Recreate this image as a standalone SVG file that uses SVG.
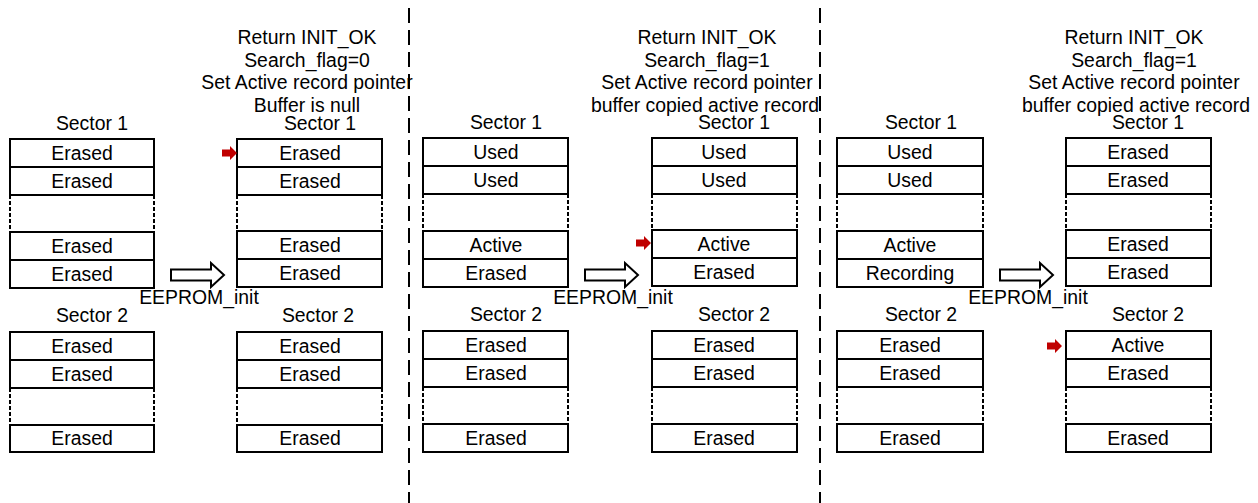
<svg xmlns="http://www.w3.org/2000/svg" width="1258" height="503" viewBox="0 0 1258 503">
<style>
text{font-family:"Liberation Sans",Arial,sans-serif;font-size:19.4px;fill:#000;text-anchor:middle}
.c{fill:#fff;stroke:#000;stroke-width:2}
.d{stroke:#000;stroke-width:2;stroke-dasharray:4 2;fill:none}
.div{stroke:#000;stroke-width:2;stroke-dasharray:15 7;fill:none}
.ha{fill:#fff;stroke:#000;stroke-width:2;stroke-linejoin:miter}
.ra{fill:#c00000;stroke:none}
</style>
<defs>
<path id="red" class="ra" d="M0,-3.5 H8 V-7 L15,0 L8,7 V3.5 H0 Z"/>
</defs>
<rect width="1258" height="503" fill="#fff"/>

<g id="dividers">
<line class="div" x1="409" y1="8" x2="409" y2="503"/>
<line class="div" x1="820" y1="8" x2="820" y2="503"/>
</g>

<g id="p1-notes">
<text x="307" y="44">Return INIT_OK</text>
<text x="307" y="67">Search_flag=0</text>
<text x="307" y="89">Set Active record pointer</text>
<text x="307" y="112">Buffer is null</text>
</g>
<g id="p2-notes">
<text x="707" y="44">Return INIT_OK</text>
<text x="707" y="67">Search_flag=1</text>
<text x="707" y="89">Set Active record pointer</text>
<text x="705" y="112">buffer copied active record</text>
</g>
<g id="p3-notes">
<text x="1134" y="44">Return INIT_OK</text>
<text x="1134" y="67">Search_flag=1</text>
<text x="1134" y="89">Set Active record pointer</text>
<text x="1136" y="112">buffer copied active record</text>
</g>

<!-- Panel 1 left -->
<g id="p1-before-s1">
<text x="92" y="130">Sector 1</text>
<rect class="c" x="10" y="139" width="144" height="28"/>
<rect class="c" x="10" y="167" width="144" height="28"/>
<line class="d" x1="10" y1="195" x2="10" y2="232"/><line class="d" x1="154" y1="195" x2="154" y2="232"/>
<rect class="c" x="10" y="232" width="144" height="28"/>
<rect class="c" x="10" y="260" width="144" height="28"/>
<text x="82" y="160">Erased</text><text x="82" y="188">Erased</text>
<text x="82" y="253">Erased</text><text x="82" y="281">Erased</text>
</g>
<g id="p1-before-s2">
<text x="92" y="322">Sector 2</text>
<rect class="c" x="10" y="332" width="144" height="28"/>
<rect class="c" x="10" y="360" width="144" height="28"/>
<line class="d" x1="10" y1="388" x2="10" y2="425"/><line class="d" x1="154" y1="388" x2="154" y2="425"/>
<rect class="c" x="10" y="425" width="144" height="27"/>
<text x="82" y="353">Erased</text><text x="82" y="381">Erased</text>
<text x="82" y="445">Erased</text>
</g>
<g id="p1-after-s1">
<text x="320" y="130">Sector 1</text>
<rect class="c" x="237" y="139" width="145" height="28"/>
<rect class="c" x="237" y="167" width="145" height="28"/>
<line class="d" x1="237" y1="195" x2="237" y2="231"/><line class="d" x1="382" y1="195" x2="382" y2="231"/>
<rect class="c" x="237" y="231" width="145" height="28"/>
<rect class="c" x="237" y="259" width="145" height="28"/>
<text x="310" y="160">Erased</text><text x="310" y="188">Erased</text>
<text x="310" y="252">Erased</text><text x="310" y="280">Erased</text>
<use href="#red" x="222" y="153"/>
</g>
<g id="p1-after-s2">
<text x="318" y="322">Sector 2</text>
<rect class="c" x="237" y="332" width="145" height="28"/>
<rect class="c" x="237" y="360" width="145" height="28"/>
<line class="d" x1="237" y1="388" x2="237" y2="425"/><line class="d" x1="382" y1="388" x2="382" y2="425"/>
<rect class="c" x="237" y="425" width="145" height="27"/>
<text x="310" y="353">Erased</text><text x="310" y="381">Erased</text>
<text x="310" y="445">Erased</text>
</g>

<!-- Panel 2 -->
<g id="p2-before-s1">
<text x="506" y="129">Sector 1</text>
<rect class="c" x="423" y="138" width="145" height="28"/>
<rect class="c" x="423" y="166" width="145" height="28"/>
<line class="d" x1="423" y1="194" x2="423" y2="231"/><line class="d" x1="568" y1="194" x2="568" y2="231"/>
<rect class="c" x="423" y="231" width="145" height="28"/>
<rect class="c" x="423" y="259" width="145" height="28"/>
<text x="496" y="159">Used</text><text x="496" y="187">Used</text>
<text x="496" y="252">Active</text><text x="496" y="280">Erased</text>
</g>
<g id="p2-before-s2">
<text x="506" y="321">Sector 2</text>
<rect class="c" x="423" y="331" width="145" height="28"/>
<rect class="c" x="423" y="359" width="145" height="28"/>
<line class="d" x1="423" y1="387" x2="423" y2="424"/><line class="d" x1="568" y1="387" x2="568" y2="424"/>
<rect class="c" x="423" y="424" width="145" height="28"/>
<text x="496" y="352">Erased</text><text x="496" y="380">Erased</text>
<text x="496" y="445">Erased</text>
</g>
<g id="p2-after-s1">
<text x="734" y="129">Sector 1</text>
<rect class="c" x="652" y="138" width="145" height="28"/>
<rect class="c" x="652" y="166" width="145" height="28"/>
<line class="d" x1="652" y1="194" x2="652" y2="230"/><line class="d" x1="797" y1="194" x2="797" y2="230"/>
<rect class="c" x="652" y="230" width="145" height="28"/>
<rect class="c" x="652" y="258" width="145" height="28"/>
<text x="724" y="159">Used</text><text x="724" y="187">Used</text>
<text x="724" y="251">Active</text><text x="724" y="279">Erased</text>
<use href="#red" x="636" y="243"/>
</g>
<g id="p2-after-s2">
<text x="734" y="321">Sector 2</text>
<rect class="c" x="652" y="331" width="145" height="28"/>
<rect class="c" x="652" y="359" width="145" height="28"/>
<line class="d" x1="652" y1="387" x2="652" y2="424"/><line class="d" x1="797" y1="387" x2="797" y2="424"/>
<rect class="c" x="652" y="424" width="145" height="28"/>
<text x="724" y="352">Erased</text><text x="724" y="380">Erased</text>
<text x="724" y="445">Erased</text>
</g>

<!-- Panel 3 -->
<g id="p3-before-s1">
<text x="921" y="129">Sector 1</text>
<rect class="c" x="837" y="138" width="146" height="28"/>
<rect class="c" x="837" y="166" width="146" height="28"/>
<line class="d" x1="837" y1="194" x2="837" y2="231"/><line class="d" x1="983" y1="194" x2="983" y2="231"/>
<rect class="c" x="837" y="231" width="146" height="28"/>
<rect class="c" x="837" y="259" width="146" height="28"/>
<text x="910" y="159">Used</text><text x="910" y="187">Used</text>
<text x="910" y="252">Active</text><text x="910" y="280">Recording</text>
</g>
<g id="p3-before-s2">
<text x="921" y="321">Sector 2</text>
<rect class="c" x="837" y="331" width="146" height="28"/>
<rect class="c" x="837" y="359" width="146" height="28"/>
<line class="d" x1="837" y1="387" x2="837" y2="424"/><line class="d" x1="983" y1="387" x2="983" y2="424"/>
<rect class="c" x="837" y="424" width="146" height="28"/>
<text x="910" y="352">Erased</text><text x="910" y="380">Erased</text>
<text x="910" y="445">Erased</text>
</g>
<g id="p3-after-s1">
<text x="1148" y="129">Sector 1</text>
<rect class="c" x="1066" y="138" width="145" height="28"/>
<rect class="c" x="1066" y="166" width="145" height="28"/>
<line class="d" x1="1066" y1="194" x2="1066" y2="230"/><line class="d" x1="1211" y1="194" x2="1211" y2="230"/>
<rect class="c" x="1066" y="230" width="145" height="28"/>
<rect class="c" x="1066" y="258" width="145" height="28"/>
<text x="1138" y="159">Erased</text><text x="1138" y="187">Erased</text>
<text x="1138" y="251">Erased</text><text x="1138" y="279">Erased</text>
</g>
<g id="p3-after-s2">
<text x="1148" y="321">Sector 2</text>
<rect class="c" x="1066" y="331" width="145" height="28"/>
<rect class="c" x="1066" y="359" width="145" height="28"/>
<line class="d" x1="1066" y1="387" x2="1066" y2="424"/><line class="d" x1="1211" y1="387" x2="1211" y2="424"/>
<rect class="c" x="1066" y="424" width="145" height="28"/>
<text x="1138" y="352">Active</text><text x="1138" y="380">Erased</text>
<text x="1138" y="445">Erased</text>
<use href="#red" x="1047" y="346"/>
</g>

<g id="connectors">
<path class="ha" d="M171,269.5 H211 V263 L224,275 L211,287 V280.5 H171 Z"/>
<text x="199" y="304">EEPROM_init</text>
<path class="ha" d="M585,269.5 H625 V263 L638,275 L625,287 V280.5 H585 Z"/>
<text x="613" y="304">EEPROM_init</text>
<path class="ha" d="M1000,269.5 H1040 V263 L1053,275 L1040,287 V280.5 H1000 Z"/>
<text x="1028" y="304">EEPROM_init</text>
</g>
</svg>
